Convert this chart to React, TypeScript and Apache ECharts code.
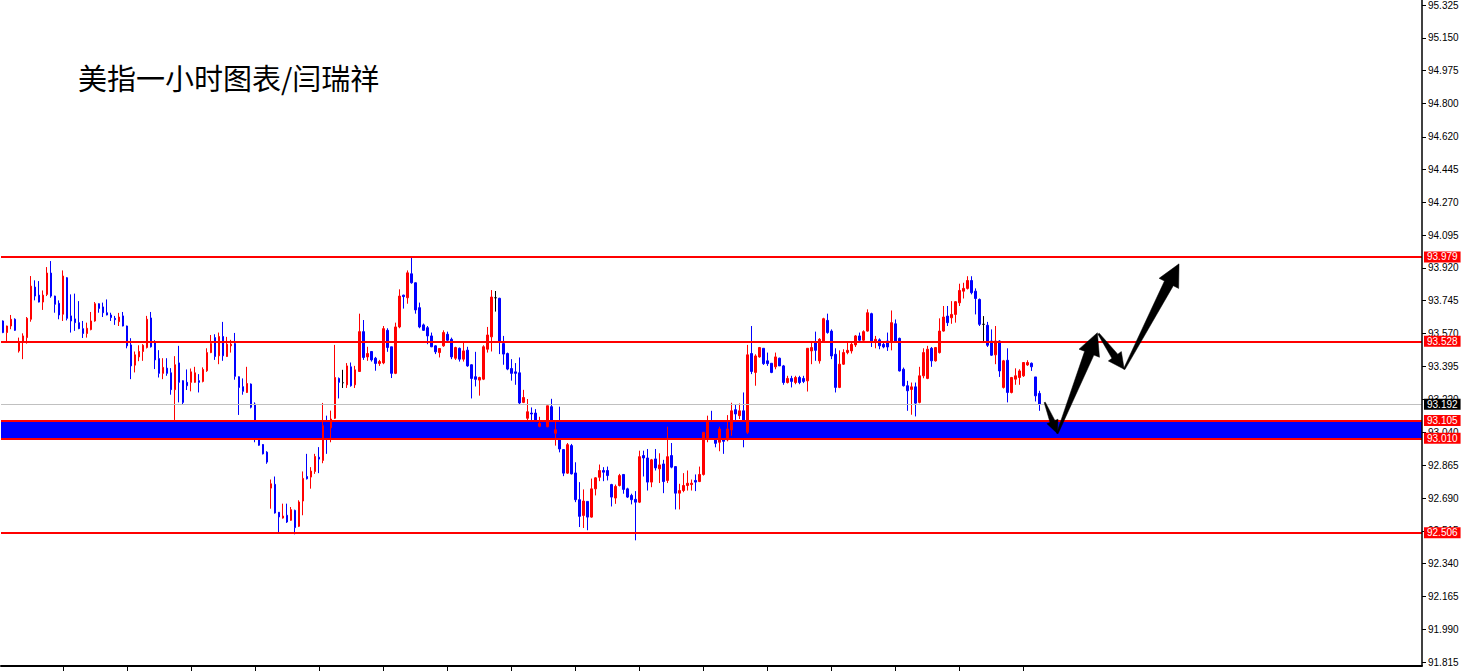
import { useEffect, useRef } from "react";
import * as echarts from "echarts";

const TITLE = "美指一小时图表/闫瑞祥";
const SLOT_COUNT = 355;
const categories: string[] = Array.from({ length: SLOT_COUNT }, (_, i) => `H${i}`);

const yTickLabels = [
  "91.815", "91.990", "92.165", "92.340", "92.515", "92.690", "92.865", "93.040",
  "93.220", "93.395", "93.570", "93.745", "93.920", "94.095", "94.270", "94.445",
  "94.620", "94.800", "94.975", "95.150", "95.325",
];
const yMin = 91.815;
const yMax = 95.325;

const redLevels = [93.979, 93.528, 93.105, 93.01, 92.506];
const bandRange = [93.01, 93.105];
const currentPrice = 93.192;

// [open, close, low, high]
const candles: number[][] = [
  [93.637, 93.575, 93.572, 93.640], [93.575, 93.610, 93.530, 93.612], [93.610, 93.646, 93.593, 93.669],
  [93.646, 93.587, 93.584, 93.651], [93.477, 93.525, 93.468, 93.548], [93.530, 93.557, 93.433, 93.571],
  [93.548, 93.651, 93.516, 93.658], [93.646, 93.823, 93.633, 93.877], [93.818, 93.770, 93.747, 93.854],
  [93.775, 93.738, 93.736, 93.850], [93.738, 93.775, 93.696, 93.800], [93.779, 93.893, 93.770, 93.925],
  [93.893, 93.770, 93.761, 93.957], [93.770, 93.726, 93.681, 93.772], [93.731, 93.669, 93.646, 93.747],
  [93.673, 93.877, 93.637, 93.907], [93.868, 93.651, 93.640, 93.871], [93.664, 93.637, 93.575, 93.779],
  [93.648, 93.628, 93.584, 93.783], [93.628, 93.596, 93.593, 93.743], [93.596, 93.570, 93.546, 93.637],
  [93.570, 93.598, 93.548, 93.628], [93.591, 93.637, 93.587, 93.685], [93.637, 93.729, 93.633, 93.738],
  [93.729, 93.704, 93.681, 93.731], [93.712, 93.681, 93.658, 93.735], [93.681, 93.669, 93.667, 93.752],
  [93.669, 93.655, 93.637, 93.681], [93.651, 93.644, 93.616, 93.664], [93.633, 93.658, 93.610, 93.680],
  [93.664, 93.610, 93.608, 93.685], [93.610, 93.504, 93.491, 93.612], [93.509, 93.397, 93.326, 93.545],
  [93.401, 93.456, 93.362, 93.474], [93.445, 93.474, 93.422, 93.507], [93.474, 93.507, 93.424, 93.513],
  [93.495, 93.646, 93.490, 93.664], [93.653, 93.499, 93.495, 93.685], [93.522, 93.429, 93.380, 93.534],
  [93.436, 93.357, 93.335, 93.481], [93.357, 93.389, 93.326, 93.438], [93.385, 93.357, 93.344, 93.438],
  [93.360, 93.270, 93.243, 93.385], [93.270, 93.403, 93.108, 93.449], [93.413, 93.309, 93.202, 93.504],
  [93.318, 93.202, 93.188, 93.320], [93.309, 93.291, 93.268, 93.378], [93.309, 93.365, 93.261, 93.383],
  [93.309, 93.360, 93.307, 93.392], [93.318, 93.309, 93.255, 93.353], [93.314, 93.378, 93.309, 93.389],
  [93.371, 93.468, 93.365, 93.491], [93.468, 93.516, 93.465, 93.562], [93.548, 93.447, 93.429, 93.566],
  [93.451, 93.554, 93.406, 93.575], [93.554, 93.451, 93.424, 93.632], [93.447, 93.513, 93.445, 93.552],
  [93.504, 93.513, 93.468, 93.536], [93.516, 93.341, 93.323, 93.573], [93.339, 93.282, 93.135, 93.341],
  [93.286, 93.261, 93.243, 93.330], [93.255, 93.303, 93.252, 93.392],
  [93.300, 93.176, 93.170, 93.303], [93.193, 93.069, 92.989, 93.202], [93.003, 92.973, 92.970, 93.016],
  [92.977, 92.927, 92.924, 92.979], [92.936, 92.883, 92.874, 92.941], [92.744, 92.767, 92.634, 92.790],
  [92.764, 92.611, 92.608, 92.806], [92.615, 92.590, 92.508, 92.616], [92.584, 92.595, 92.581, 92.661],
  [92.599, 92.563, 92.558, 92.661], [92.572, 92.629, 92.569, 92.643], [92.625, 92.533, 92.497, 92.629],
  [92.540, 92.670, 92.536, 92.679], [92.675, 92.796, 92.599, 92.833], [92.806, 92.794, 92.790, 92.927],
  [92.803, 92.835, 92.741, 92.856], [92.833, 92.913, 92.820, 92.927], [92.909, 92.899, 92.824, 92.963],
  [92.892, 93.078, 92.877, 93.199], [93.096, 93.070, 92.927, 93.131], [93.066, 93.113, 92.989, 93.158],
  [93.117, 93.335, 93.113, 93.509], [93.330, 93.309, 93.223, 93.335], [93.307, 93.307, 93.279, 93.376],
  [93.296, 93.397, 93.279, 93.412], [93.392, 93.291, 93.286, 93.415], [93.296, 93.376, 93.279, 93.397],
  [93.367, 93.580, 93.365, 93.676], [93.580, 93.442, 93.429, 93.642], [93.445, 93.463, 93.424, 93.499],
  [93.474, 93.429, 93.420, 93.474], [93.438, 93.410, 93.371, 93.445], [93.410, 93.420, 93.397, 93.429],
  [93.413, 93.596, 93.406, 93.610], [93.587, 93.495, 93.472, 93.598], [93.499, 93.357, 93.332, 93.499],
  [93.357, 93.605, 93.353, 93.628], [93.605, 93.770, 93.598, 93.806], [93.775, 93.767, 93.703, 93.777],
  [93.761, 93.894, 93.729, 93.907], [93.889, 93.841, 93.836, 93.974], [93.841, 93.696, 93.676, 93.843],
  [93.708, 93.605, 93.598, 93.735], [93.616, 93.587, 93.584, 93.623], [93.601, 93.557, 93.513, 93.610],
  [93.557, 93.499, 93.497, 93.575], [93.504, 93.472, 93.460, 93.507], [93.468, 93.490, 93.442, 93.491],
  [93.504, 93.575, 93.499, 93.587], [93.566, 93.534, 93.530, 93.580], [93.539, 93.445, 93.433, 93.548],
  [93.438, 93.495, 93.429, 93.499], [93.491, 93.433, 93.420, 93.495], [93.433, 93.477, 93.420, 93.522],
  [93.481, 93.397, 93.392, 93.499], [93.403, 93.330, 93.223, 93.406], [93.339, 93.325, 93.287, 93.472],
  [93.321, 93.335, 93.238, 93.339], [93.326, 93.499, 93.321, 93.507], [93.486, 93.562, 93.468, 93.605],
  [93.552, 93.765, 93.474, 93.802], [93.761, 93.761, 93.687, 93.797], [93.758, 93.522, 93.460, 93.761],
  [93.516, 93.460, 93.403, 93.557], [93.463, 93.380, 93.374, 93.468], [93.383, 93.357, 93.318, 93.433],
  [93.365, 93.357, 93.296, 93.412], [93.360, 93.199, 93.193, 93.442],
  [93.202, 93.228, 93.198, 93.269], [93.117, 93.152, 93.108, 93.220], [93.145, 93.140, 93.104, 93.175],
  [93.145, 93.095, 93.086, 93.166], [93.074, 93.090, 93.069, 93.125], [93.092, 93.083, 93.078, 93.095],
  [93.072, 93.184, 93.069, 93.184], [93.179, 93.104, 93.083, 93.221], [93.037, 93.056, 92.971, 93.104],
  [93.069, 92.953, 92.935, 93.179], [92.950, 92.824, 92.808, 92.953], [92.824, 92.976, 92.820, 92.985],
  [92.971, 92.820, 92.817, 92.980], [92.825, 92.682, 92.669, 92.882], [92.682, 92.593, 92.536, 92.776],
  [92.598, 92.675, 92.531, 92.737], [92.673, 92.589, 92.519, 92.673], [92.589, 92.740, 92.586, 92.795],
  [92.740, 92.799, 92.705, 92.802], [92.802, 92.838, 92.781, 92.870], [92.838, 92.829, 92.781, 92.856],
  [92.838, 92.811, 92.785, 92.859], [92.763, 92.696, 92.646, 92.767], [92.691, 92.753, 92.660, 92.763],
  [92.758, 92.811, 92.753, 92.820], [92.817, 92.737, 92.714, 92.817], [92.740, 92.696, 92.691, 92.746],
  [92.705, 92.682, 92.657, 92.714], [92.684, 92.669, 92.465, 92.728], [92.669, 92.912, 92.664, 92.944],
  [92.918, 92.905, 92.806, 92.944], [92.905, 92.776, 92.731, 92.953], [92.776, 92.895, 92.749, 92.900],
  [92.900, 92.852, 92.838, 92.953], [92.847, 92.868, 92.771, 92.930], [92.873, 92.779, 92.717, 92.895],
  [92.785, 92.912, 92.771, 93.072], [92.918, 92.856, 92.850, 92.985], [92.859, 92.717, 92.630, 92.859],
  [92.717, 92.731, 92.630, 92.767], [92.731, 92.758, 92.722, 92.824], [92.758, 92.770, 92.731, 92.838],
  [92.763, 92.770, 92.731, 92.790], [92.785, 92.776, 92.728, 92.817], [92.779, 92.817, 92.776, 92.859],
  [92.817, 93.042, 92.811, 93.042], [93.008, 93.104, 92.989, 93.131], [93.104, 93.087, 93.060, 93.157],
  [93.007, 92.983, 92.962, 93.010], [92.989, 93.060, 92.941, 93.072], [93.015, 92.994, 92.927, 93.033],
  [93.002, 93.060, 92.994, 93.134], [93.055, 93.157, 93.024, 93.200], [93.163, 93.140, 93.108, 93.189],
  [93.131, 93.157, 93.113, 93.196], [93.157, 93.087, 92.962, 93.255], [93.042, 93.456, 93.033, 93.509],
  [93.463, 93.367, 93.353, 93.610], [93.362, 93.450, 93.291, 93.459], [93.445, 93.495, 93.441, 93.498],
  [93.491, 93.409, 93.402, 93.491], [93.424, 93.409, 93.397, 93.468], [93.411, 93.362, 93.358, 93.411],
  [93.392, 93.445, 93.379, 93.468], [93.438, 93.397, 93.397, 93.441], [93.397, 93.308, 93.296, 93.402],
  [93.308, 93.330, 93.303, 93.344], [93.330, 93.314, 93.282, 93.344], [93.308, 93.335, 93.299, 93.344],
  [93.335, 93.308, 93.299, 93.344], [93.330, 93.314, 93.305, 93.344], [93.317, 93.491, 93.260, 93.491],
  [93.477, 93.495, 93.406, 93.530], [93.525, 93.480, 93.424, 93.580], [93.424, 93.539, 93.409, 93.545],
  [93.530, 93.649, 93.527, 93.654], [93.640, 93.575, 93.569, 93.676], [93.583, 93.450, 93.433, 93.592],
  [93.459, 93.282, 93.255, 93.491], [93.282, 93.406, 93.278, 93.480], [93.406, 93.468, 93.402, 93.486],
  [93.468, 93.480, 93.459, 93.521], [93.477, 93.512, 93.463, 93.527], [93.509, 93.557, 93.498, 93.562],
  [93.557, 93.534, 93.527, 93.575], [93.534, 93.580, 93.530, 93.587], [93.583, 93.681, 93.580, 93.699],
  [93.676, 93.530, 93.498, 93.681], [93.527, 93.539, 93.491, 93.557], [93.536, 93.504, 93.486, 93.544],
  [93.512, 93.498, 93.491, 93.525], [93.530, 93.498, 93.477, 93.575], [93.530, 93.628, 93.480, 93.693],
  [93.622, 93.530, 93.527, 93.645], [93.544, 93.370, 93.367, 93.548], [93.379, 93.291, 93.287, 93.388],
  [93.291, 93.264, 93.157, 93.317], [93.271, 93.285, 93.136, 93.308], [93.285, 93.198, 93.127, 93.308],
  [93.202, 93.344, 93.197, 93.392], [93.344, 93.468, 93.331, 93.491], [93.330, 93.486, 93.326, 93.504],
  [93.491, 93.424, 93.392, 93.498], [93.424, 93.495, 93.420, 93.498], [93.468, 93.583, 93.463, 93.651],
  [93.583, 93.658, 93.580, 93.717], [93.663, 93.628, 93.610, 93.717], [93.654, 93.672, 93.622, 93.743],
  [93.672, 93.740, 93.628, 93.743], [93.734, 93.800, 93.717, 93.836], [93.796, 93.811, 93.757, 93.841],
  [93.811, 93.853, 93.805, 93.876], [93.853, 93.788, 93.779, 93.876], [93.796, 93.757, 93.672, 93.811],
  [93.752, 93.619, 93.610, 93.757], [93.619, 93.619, 93.530, 93.663], [93.614, 93.507, 93.498, 93.632],
  [93.530, 93.454, 93.450, 93.592], [93.456, 93.530, 93.406, 93.610], [93.530, 93.370, 93.338, 93.534],
  [93.282, 93.424, 93.276, 93.429], [93.427, 93.255, 93.202, 93.491], [93.255, 93.335, 93.250, 93.338],
  [93.326, 93.344, 93.296, 93.384], [93.335, 93.370, 93.296, 93.379], [93.344, 93.415, 93.338, 93.415],
  [93.402, 93.415, 93.397, 93.427], [93.411, 93.392, 93.370, 93.415], [93.338, 93.237, 93.207, 93.338],
  [93.250, 93.192, 93.157, 93.264],
];

// Forecast arrows: [fromIndex, fromPrice, toIndex, toPrice]
const arrowSegments: number[][] = [
  [260.25, 93.202, 263.4, 93.036],
  [263.4, 93.036, 273.4, 93.574],
  [273.7, 93.569, 280.1, 93.379],
  [280.1, 93.379, 293.8, 93.942],
];
// arrow head / shaft sizes in px
const arrowSizes = [
  { head: 13, wing: 6, shaft: 2.6, tail: 0.6 },
  { head: 22, wing: 11, shaft: 5, tail: 0.8 },
  { head: 16, wing: 8, shaft: 3.6, tail: 0.8 },
  { head: 22, wing: 11, shaft: 5, tail: 0.8 },
];

const LABEL_FONT = "Liberation Sans";

function levelLabel(bg: string, value: number) {
  return {
    show: true,
    position: "end",
    distance: 2,
    formatter: () => value.toFixed(3),
    backgroundColor: bg,
    color: "#ffffff",
    fontSize: 10,
    lineHeight: 10,
    fontFamily: LABEL_FONT,
    padding: [1, 3, 0, 3],
  };
}

function buildOption() {
  return {
    animation: false,
    backgroundColor: "#ffffff",
    title: {
      text: TITLE,
      left: 73,
      top: 57,
      textStyle: {
        fontFamily: "Noto Sans CJK SC",
        fontSize: 29,
        fontWeight: "normal",
        color: "#000000",
      },
    },
    grid: { left: 1, right: 43, top: 3, bottom: 9 },
    xAxis: {
      type: "category",
      data: categories,
      boundaryGap: true,
      offset: 4,
      axisLine: { show: true, lineStyle: { color: "#000000", width: 2 } },
      axisTick: {
        show: true,
        alignWithLabel: true,
        length: 5,
        interval: (index: number) => index % 16 === 15 && index < candles.length,
        lineStyle: { color: "#000000", width: 1 },
      },
      axisLabel: { show: false },
      splitLine: { show: false },
    },
    yAxis: {
      type: "value",
      position: "right",
      min: yMin,
      max: yMax,
      scale: true,
      axisLine: { show: false },
      axisTick: {
        show: true,
        length: 4,
        customValues: yTickLabels.map(Number),
        lineStyle: { color: "#000000" },
      },
      axisLabel: {
        show: true,
        margin: 6,
        customValues: yTickLabels.map(Number),
        formatter: (v: number) => v.toFixed(3),
        color: "#000000",
        fontSize: 10,
        fontFamily: LABEL_FONT,
      },
      splitLine: { show: false },
    },
    graphic: [
      {
        type: "line",
        z: 100,
        shape: { x1: 1422, y1: 0, x2: 1422, y2: 666 },
        style: { stroke: "#000000", lineWidth: 1.5 },
      },
    ],
    series: [
      {
        type: "candlestick",
        name: "USDX H1",
        data: candles,
        barWidth: 2,
        z: 2,
        itemStyle: {
          color: "#ff0000",
          color0: "#0000ff",
          borderColor: "#ff0000",
          borderColor0: "#0000ff",
          borderColorDoji: "#000000",
          borderWidth: 1,
        },
      },
      {
        type: "line",
        name: "band",
        data: [],
        z: 3,
        silent: true,
        markArea: {
          silent: true,
          itemStyle: { color: "#0000ff", opacity: 1 },
          data: [[{ yAxis: bandRange[0] }, { yAxis: bandRange[1] }]],
        },
      },
      {
        type: "line",
        name: "levels",
        data: [],
        z: 4,
        silent: true,
        markLine: {
          silent: true,
          precision: 3,
          symbol: ["none", "none"],
          data: [
            {
              yAxis: currentPrice,
              lineStyle: { color: "#c0c0c0", width: 1, type: "solid" },
              label: levelLabel("#000000", currentPrice),
            },
            ...redLevels.map((v) => ({
              yAxis: v,
              lineStyle: { color: "#ff0000", width: 2, type: "solid" },
              label: levelLabel("#ff0000", v),
            })),
          ],
        },
      },
      {
        type: "custom",
        name: "forecast",
        z: 6,
        silent: true,
        clip: false,
        data: arrowSegments.map((a) => [Math.round(a[0]), a[1]]),
        encode: { x: 0, y: 1 },
        renderItem: (params: any, api: any) => {
          const a = arrowSegments[params.dataIndex];
          const s = arrowSizes[params.dataIndex];
          const toPx = (xi: number, y: number) => {
            const base = Math.floor(xi);
            const p = api.coord([base, y]);
            const p2 = api.coord([base + 1, y]);
            return [p[0] + (xi - base) * (p2[0] - p[0]), p[1]];
          };
          const t = toPx(a[0], a[1]);
          const h = toPx(a[2], a[3]);
          const dx = h[0] - t[0];
          const dy = h[1] - t[1];
          const L = Math.hypot(dx, dy);
          const ux = dx / L;
          const uy = dy / L;
          const nx = -uy;
          const ny = ux;
          const bx = h[0] - ux * s.head;
          const by = h[1] - uy * s.head;
          const points = [
            [t[0] + nx * s.tail, t[1] + ny * s.tail],
            [bx + nx * s.shaft, by + ny * s.shaft],
            [bx + nx * s.wing, by + ny * s.wing],
            [h[0], h[1]],
            [bx - nx * s.wing, by - ny * s.wing],
            [bx - nx * s.shaft, by - ny * s.shaft],
            [t[0] - nx * s.tail, t[1] - ny * s.tail],
          ];
          return {
            type: "polygon",
            shape: { points },
            style: { fill: "#000000", stroke: "#000000", lineWidth: 0.5 },
          };
        },
      },
    ],
  };
}

export default function App() {
  const ref = useRef<HTMLDivElement>(null);
  useEffect(() => {
    if (!ref.current) return;
    const chart = echarts.init(ref.current, null, { renderer: "svg" });
    chart.setOption(buildOption() as any);
    return () => chart.dispose();
  }, []);
  return (
    <div
      ref={ref}
      style={{ position: "absolute", left: 0, top: 0, width: 1465, height: 671, background: "#ffffff" }}
    />
  );
}
